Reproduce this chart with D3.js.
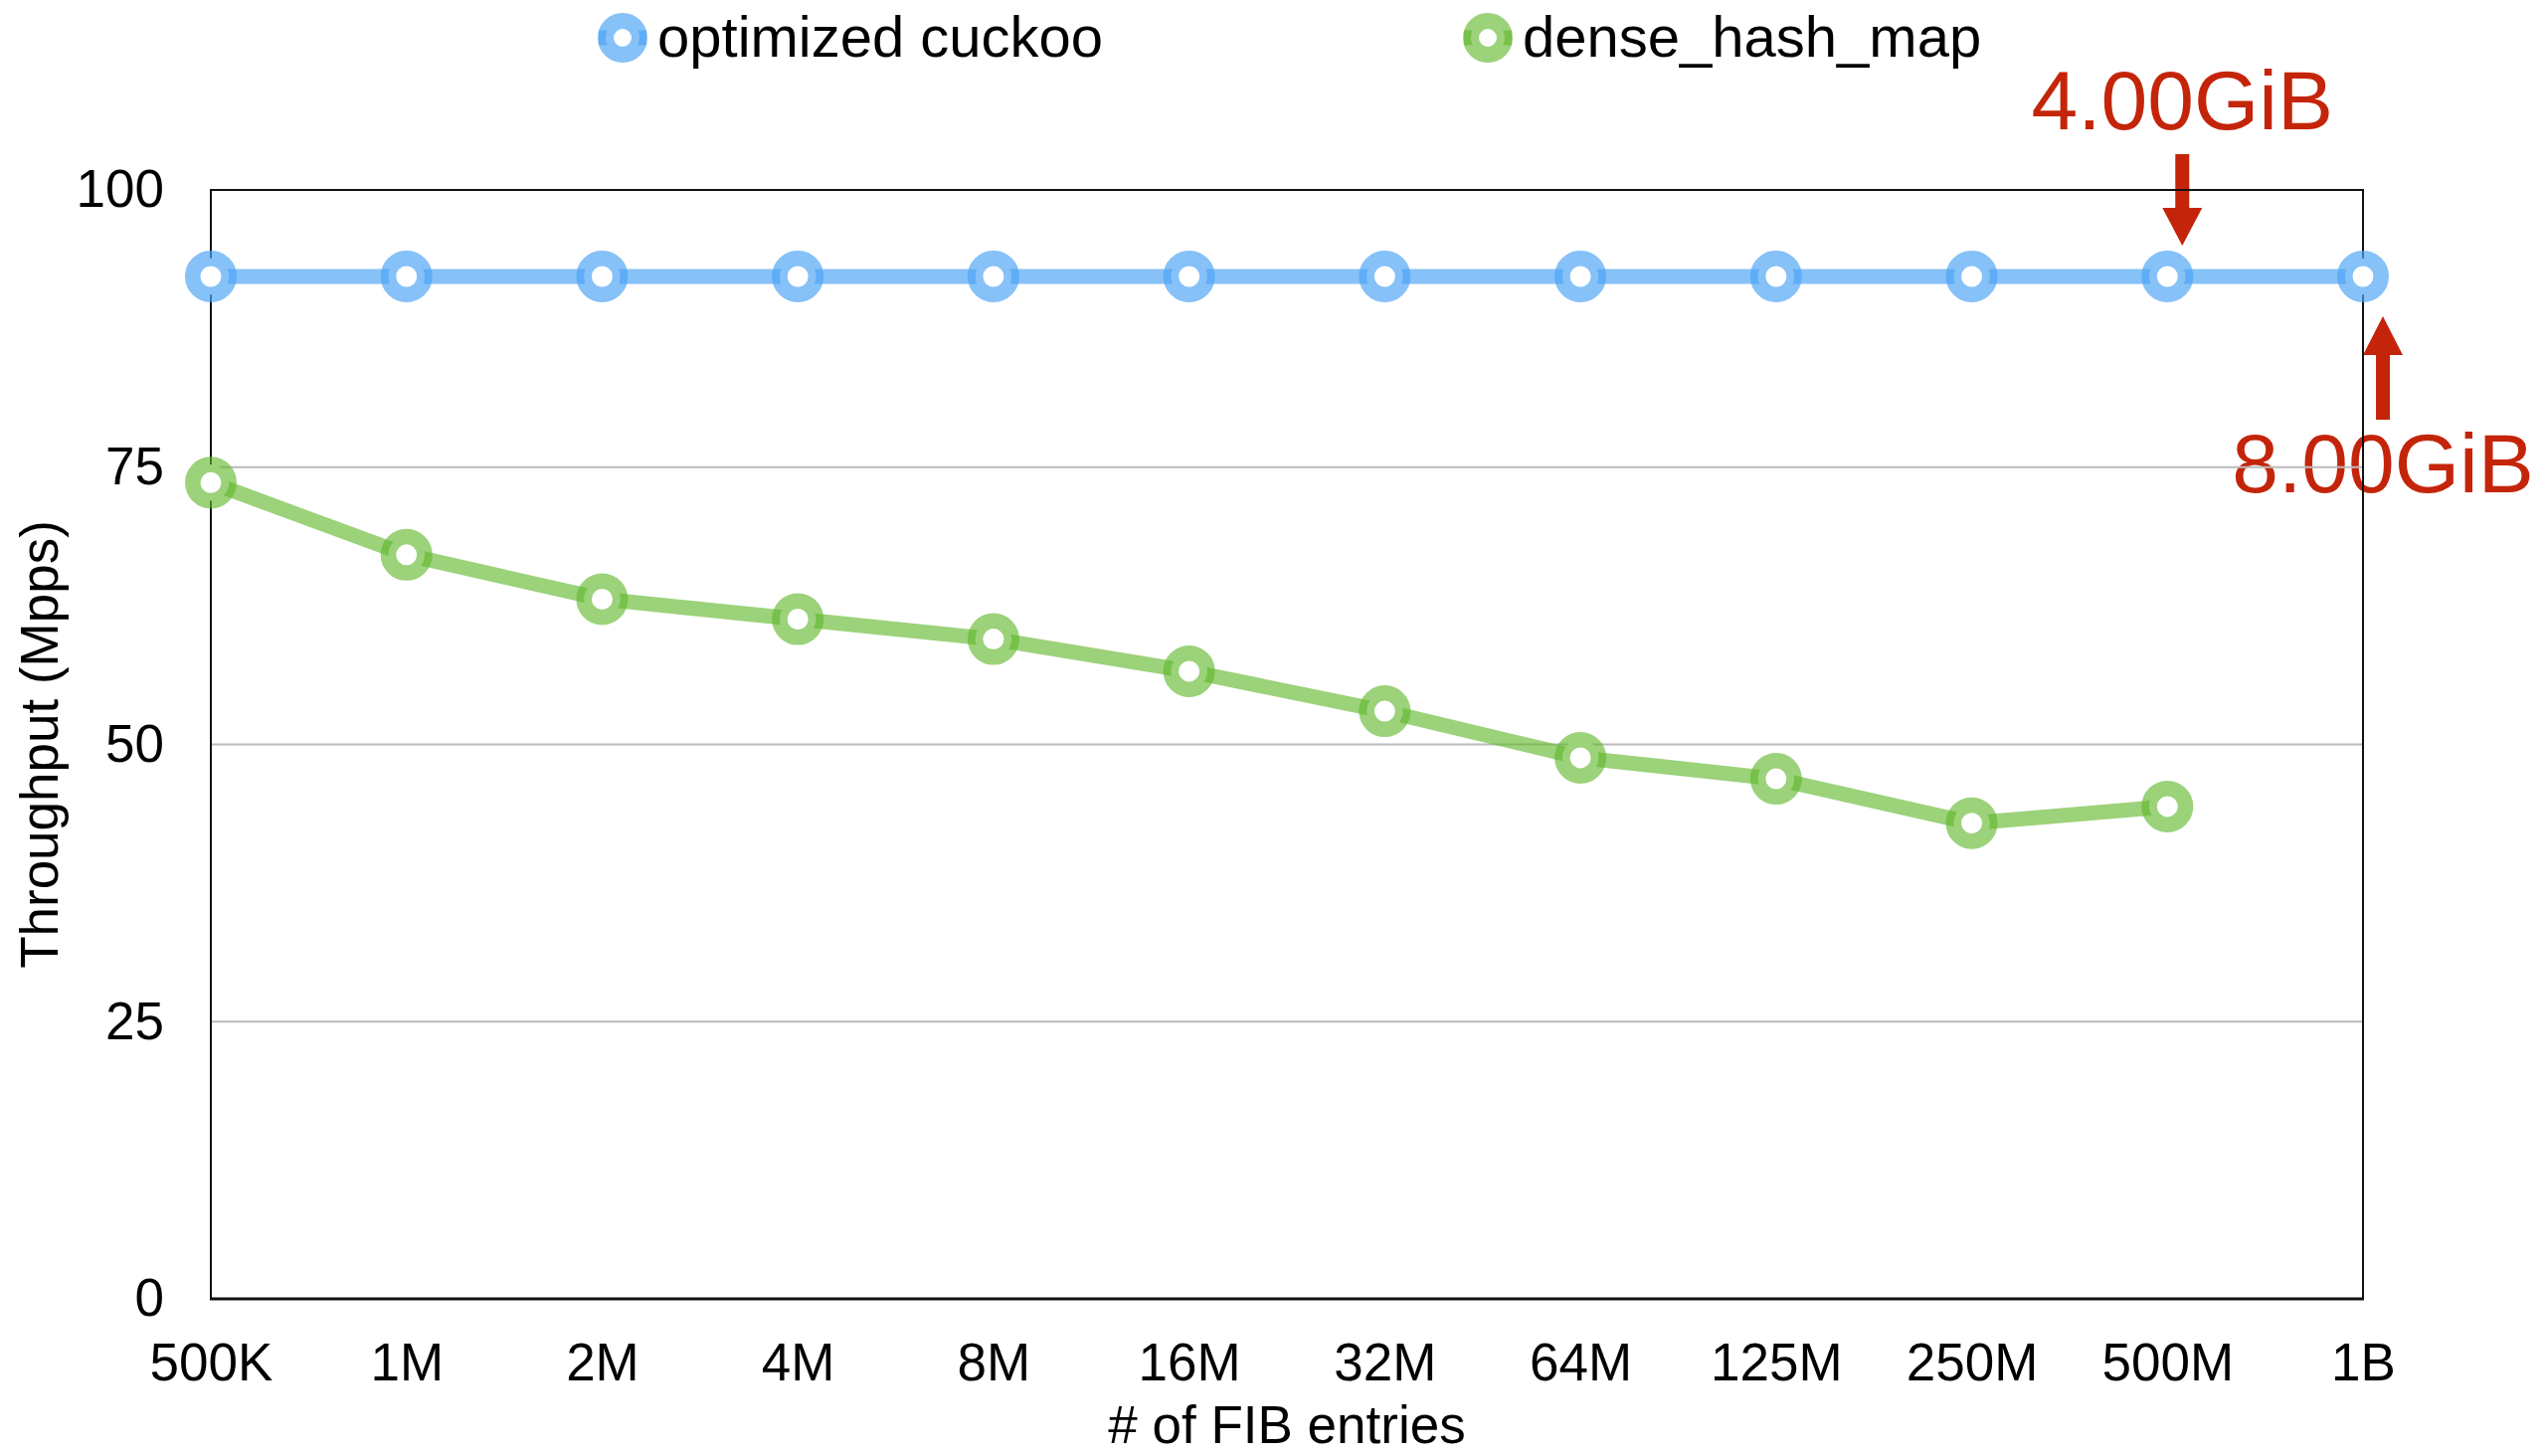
<!DOCTYPE html>
<html>
<head>
<meta charset="utf-8">
<script src="https://cdn.jsdelivr.net/npm/d3@7"></script>
<style>
  html, body { margin: 0; padding: 0; background: #fff; }
  svg { display: block; font-family: "Liberation Sans", Arial, sans-serif; }
</style>
</head>
<body>
<svg id="chart" width="2561" height="1464"></svg>
<script>
// ---- data ----
const categories = ["500K", "1M", "2M", "4M", "8M", "16M", "32M", "64M", "125M", "250M", "500M", "1B"];
const cuckooValues = [92.2, 92.2, 92.2, 92.2, 92.2, 92.2, 92.2, 92.2, 92.2, 92.2, 92.2, 92.2];
const denseValues = [73.6, 67.1, 63.1, 61.3, 59.5, 56.6, 53.0, 48.8, 46.9, 42.9, 44.4, null];
const seriesNames = ["optimized cuckoo", "dense_hash_map"];
const yTicks = [0, 25, 50, 75, 100];
const annotationLabels = ["4.00GiB", "8.00GiB"];
const annotationCategories = ["500M", "1B"];
const xTitle = "# of FIB entries";
const yTitle = "Throughput (Mpps)";

// ---- layout ----
const L = 212, R = 2376, T = 191, B = 1306;
const svg = d3.select("#chart");
const x = d3.scalePoint().domain(categories).range([L, R]).padding(0);
const y = d3.scaleLinear().domain([0, 100]).range([B, T]);

const series = [
  { name: seriesNames[0], values: cuckooValues, color: "rgb(76,164,245)", op: 0.68 },
  { name: seriesNames[1], values: denseValues, color: "rgb(97,183,44)", op: 0.63 }
];
const red = "#C4250A";

// annotations (text + arrows)
const ann = svg.append("g");
annotationLabels.forEach((lab, i) => {
  const cat = annotationCategories[i];
  const px = x(cat), py = y(cuckooValues[categories.indexOf(cat)]);
  const down = i === 0;
  const cx = down ? px + 15 : px + 20;
  const sw = 7, hw = 20;
  let pts;
  if (down) {
    const tip = py - 31, hb = py - 69, top = py - 123;
    pts = [[cx - sw, top], [cx + sw, top], [cx + sw, hb], [cx + hw, hb], [cx, tip], [cx - hw, hb], [cx - sw, hb]];
    ann.append("text").attr("x", cx).attr("y", py - 148).attr("text-anchor", "middle")
      .attr("font-size", 84).attr("fill", red).text(lab);
  } else {
    const tip = py + 40, hb = py + 79, bot = py + 144;
    pts = [[cx - sw, bot], [cx + sw, bot], [cx + sw, hb], [cx + hw, hb], [cx, tip], [cx - hw, hb], [cx - sw, hb]];
    ann.append("text").attr("x", cx).attr("y", py + 217).attr("text-anchor", "middle")
      .attr("font-size", 84).attr("fill", red).text(lab);
  }
  ann.append("path").attr("d", d3.line()(pts) + "Z").attr("fill", red);
});

// gridlines
svg.append("g").selectAll("line").data(yTicks.filter(t => t > 0 && t < 100)).join("line")
  .attr("x1", L).attr("x2", R).attr("y1", d => y(d)).attr("y2", d => y(d))
  .attr("stroke", "#bababa").attr("stroke-width", 2);

// border
svg.append("path").attr("d", `M${L},${B}V${T}H${R}V${B}`).attr("fill", "none")
  .attr("stroke", "#111").attr("stroke-width", 2);
svg.append("line").attr("x1", L - 1).attr("x2", R + 1).attr("y1", B).attr("y2", B)
  .attr("stroke", "#111").attr("stroke-width", 3);

// axes
const yAxis = svg.append("g").attr("transform", `translate(${L},0)`)
  .call(d3.axisLeft(y).tickValues(yTicks).tickSize(0).tickPadding(47));
yAxis.select(".domain").remove();
yAxis.selectAll("text").attr("font-size", 53).attr("fill", "#000")
  .attr("font-family", "Liberation Sans, Arial, sans-serif");

const xAxis = svg.append("g").attr("transform", `translate(0,${B})`)
  .call(d3.axisBottom(x).tickSize(0).tickPadding(44));
xAxis.select(".domain").remove();
xAxis.selectAll("text").attr("font-size", 53).attr("fill", "#000")
  .attr("font-family", "Liberation Sans, Arial, sans-serif");

// titles
svg.append("text").attr("x", (L + R) / 2).attr("y", 1451).attr("text-anchor", "middle")
  .attr("font-size", 53).attr("fill", "#000").text(xTitle);
svg.append("text").attr("transform", `translate(58,${(T + B) / 2}) rotate(-90)`)
  .attr("text-anchor", "middle").attr("font-size", 53).attr("fill", "#000").text(yTitle);

// series lines
const line = d3.line().defined(d => d.v != null).x(d => x(d.c)).y(d => y(d.v));
series.forEach(s => {
  const data = categories.map((c, i) => ({ c, v: s.values[i] }));
  svg.append("path").datum(data).attr("d", line).attr("fill", "none")
    .attr("stroke", s.color).attr("stroke-opacity", s.op).attr("stroke-width", 15);
});
// markers
series.forEach(s => {
  const data = categories.map((c, i) => ({ c, v: s.values[i] })).filter(d => d.v != null);
  svg.append("g").selectAll("circle").data(data).join("circle")
    .attr("cx", d => x(d.c)).attr("cy", d => y(d.v)).attr("r", 18.25)
    .attr("fill", "#fff").attr("stroke", s.color).attr("stroke-opacity", s.op)
    .attr("stroke-width", 15.5);
});

// legend
const legendX = [626, 1496];
series.forEach((s, i) => {
  const g = svg.append("g").attr("transform", `translate(${legendX[i]},38)`);
  g.append("line").attr("x1", -24).attr("x2", 24).attr("y1", 0).attr("y2", 0)
    .attr("stroke", s.color).attr("stroke-opacity", s.op).attr("stroke-width", 15);
  g.append("circle").attr("r", 17).attr("fill", "#fff").attr("stroke", s.color)
    .attr("stroke-opacity", s.op).attr("stroke-width", 16);
  g.append("text").attr("x", 35).attr("y", 19).attr("font-size", 58).attr("fill", "#000").text(s.name);
});
</script>
</body>
</html>
